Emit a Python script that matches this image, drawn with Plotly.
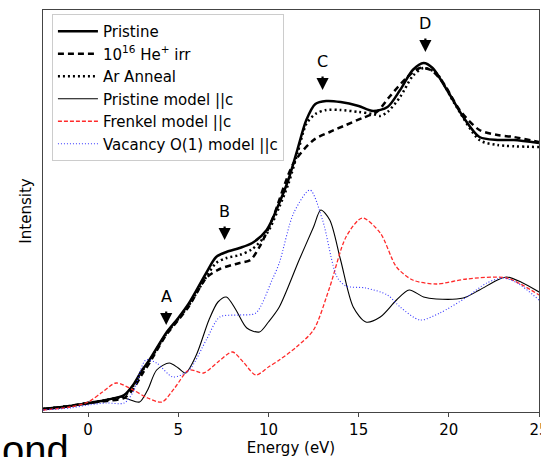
import plotly.graph_objects as go

# ---- data (Energy in eV, intensity in arbitrary units) ----
pristine_E = [-2.5, -1, 0, 1, 2, 2.5, 3, 3.4, 4.33, 5.0, 5.6, 6.55, 7.1, 7.67, 8.4, 9.1, 9.9, 10.6, 11.1, 11.6, 12.1, 12.6, 13.2, 14.0, 15.0, 15.8, 16.6, 17.3, 18.0, 18.6, 19.1, 19.9, 20.8, 21.7, 22.7, 23.6, 25]
pristine_I = [3, 6, 9, 12, 17, 27, 42, 52, 79, 94, 109, 139, 155, 160, 164, 169, 182, 209, 232, 262, 292, 308, 311, 310, 306, 301, 305, 322, 342, 349, 344, 322, 295, 275, 272, 272, 269]

heirr_E = [-2.5, -1, 0, 1, 2, 2.5, 3, 3.4, 4.33, 5.0, 5.6, 6.55, 7.3, 8.4, 9.0, 9.5, 10.2, 11.4, 12.5, 13.4, 14.3, 15.2, 16.0, 16.7, 17.7, 18.4, 19.0, 19.7, 20.6, 21.7, 22.7, 23.6, 25]
heirr_I = [3, 6, 9, 11, 14, 23, 38, 49, 77, 92, 106, 134, 143, 149, 152, 165, 192, 249, 272, 280, 287, 294, 300, 315, 335, 344, 342, 329, 302, 282, 277, 275, 270]

anneal_E = [-2.5, -1, 0, 1, 2, 2.5, 3, 3.4, 4.33, 5.0, 5.6, 6.55, 7.1, 7.67, 8.4, 9.1, 9.9, 10.6, 11.1, 11.6, 12.1, 12.6, 13.2, 14.0, 15.0, 15.8, 16.2, 16.6, 17.3, 18.0, 18.6, 19.3, 20.3, 21.7, 22.7, 25]
anneal_I = [3, 6, 9, 12, 16, 26, 41, 51, 78, 93, 107, 135, 149, 154, 157, 163, 178, 205, 228, 258, 288, 298, 302, 302, 300, 298, 296, 300, 315, 336, 344, 339, 309, 272, 267, 265]

pmodel_E = [-2.5, -1, 0, 1, 1.7, 2.2, 2.85, 3.3, 3.8, 4.5, 5.0, 5.4, 6.0, 6.7, 7.2, 7.67, 8.2, 8.8, 9.5, 10.0, 10.6, 11.7, 12.5, 12.9, 13.4, 14.0, 14.7, 15.4, 16.2, 17.1, 17.8, 18.6, 19.3, 20.8, 21.7, 22.7, 23.2, 24.0, 25]
pmodel_I = [3, 6, 8, 12, 15, 13, 10, 22, 42, 49, 44, 39, 57, 92, 110, 115, 102, 84, 80, 90, 105, 152, 185, 202, 192, 152, 105, 90, 95, 112, 122, 115, 113, 114, 122, 132, 135, 130, 120]

frenkel_E = [-2.5, -1, 0, 0.8, 1.55, 2.5, 3.3, 4.1, 4.8, 5.6, 6.4, 7.2, 8.0, 8.6, 9.3, 10.0, 10.6, 11.55, 12.5, 13.4, 14.3, 15.2, 16.2, 17.1, 18.0, 19.3, 21.0, 23.2, 25]
frenkel_I = [2, 5, 10, 20, 29, 22, 14, 10, 24, 42, 39, 50, 60, 50, 37, 45, 52, 65, 82, 125, 175, 194, 179, 145, 132, 128, 133, 134, 117]

vacancy_E = [-2.5, -1, 0, 1, 2, 2.5, 3.2, 3.8, 4.7, 5.6, 6.55, 7.3, 8.4, 9.3, 10.2, 10.6, 11.4, 12.3, 13.0, 13.8, 14.3, 15.4, 16.6, 17.3, 18.4, 19.5, 21.0, 22.1, 23.0, 23.8, 25]
vacancy_I = [2, 4, 7, 9, 9, 20, 52, 49, 35, 42, 72, 95, 97, 99, 132, 149, 199, 222, 192, 135, 126, 124, 117, 105, 92, 99, 115, 129, 134, 129, 112]

labels = ["A", "B", "C", "D"]
label_E = [4.33, 7.57, 13.0, 18.7]
label_tip = [87, 172, 322, 360]

FONT = "DejaVu Sans"

fig = go.Figure()
def add(x, y, name, color, width, dash):
    fig.add_trace(go.Scatter(x=x, y=y, name=name, mode="lines",
                             line=dict(color=color, width=width, dash=dash, shape="spline", smoothing=0.8)))

add(pristine_E, pristine_I, "Pristine", "black", 2.5, "solid")
add(heirr_E, heirr_I, "10<sup>16</sup> He<sup>+</sup> irr", "black", 2.5, "6px,4px")
add(anneal_E, anneal_I, "Ar Anneal", "black", 2.5, "2px,3px")
add(pmodel_E, pmodel_I, "Pristine model ||c", "black", 1.1, "solid")
add(frenkel_E, frenkel_I, "Frenkel model ||c", "#ff2a2a", 1.3, "4px,2px")
add(vacancy_E, vacancy_I, "Vacancy O(1) model ||c", "#3333ff", 1.1, "1px,2px")

for lab, e, t in zip(labels, label_E, label_tip):
    fig.add_annotation(x=e, y=t, xref="x", yref="y", text="", showarrow=True,
                       ax=0, ay=-15, arrowhead=2, arrowsize=1.1, arrowwidth=2.2, arrowcolor="black")
    fig.add_annotation(x=e, y=t, xref="x", yref="y", text=lab, showarrow=False,
                       yshift=17, yanchor="bottom", font=dict(family=FONT, size=16, color="black"))

fig.add_annotation(x=-0.087, y=-0.035, xref="paper", yref="paper", text="ond",
                   showarrow=False, xanchor="left", yanchor="top",
                   font=dict(family="Liberation Sans", size=40, color="black"))

fig.update_layout(
    width=541, height=457,
    margin=dict(l=43, r=2, t=10, b=45, autoexpand=False),
    paper_bgcolor="white", plot_bgcolor="white",
    font=dict(family=FONT, size=14, color="black"),
    showlegend=True,
    legend=dict(x=0.018, y=0.99, xanchor="left", yanchor="top",
                bgcolor="rgba(255,255,255,0.85)", bordercolor="#cccccc", borderwidth=1,
                font=dict(family=FONT, size=15), tracegroupgap=0, itemwidth=40),
)
fig.update_xaxes(range=[-2.5, 25], tickvals=[0, 5, 10, 15, 20, 25], automargin=False,
                 ticklabeloverflow="allow",
                 showgrid=False, zeroline=False, showline=True, mirror=True,
                 linecolor="#444444", linewidth=1.2, ticks="outside", ticklen=4,
                 tickcolor="#444444", tickfont=dict(family=FONT, size=15),
                 title=dict(text="Energy (eV)", font=dict(family=FONT, size=15), standoff=2))
fig.update_yaxes(range=[0, 402], showticklabels=False, ticks="", automargin=False,
                 showgrid=False, zeroline=False, showline=True, mirror=True,
                 linecolor="#444444", linewidth=1.2,
                 title=dict(text="Intensity", font=dict(family=FONT, size=15), standoff=6))

fig.write_html("out.html", config={"displayModeBar": False},
               post_script="document.body.style.margin='0px';document.body.style.overflow='hidden';")
